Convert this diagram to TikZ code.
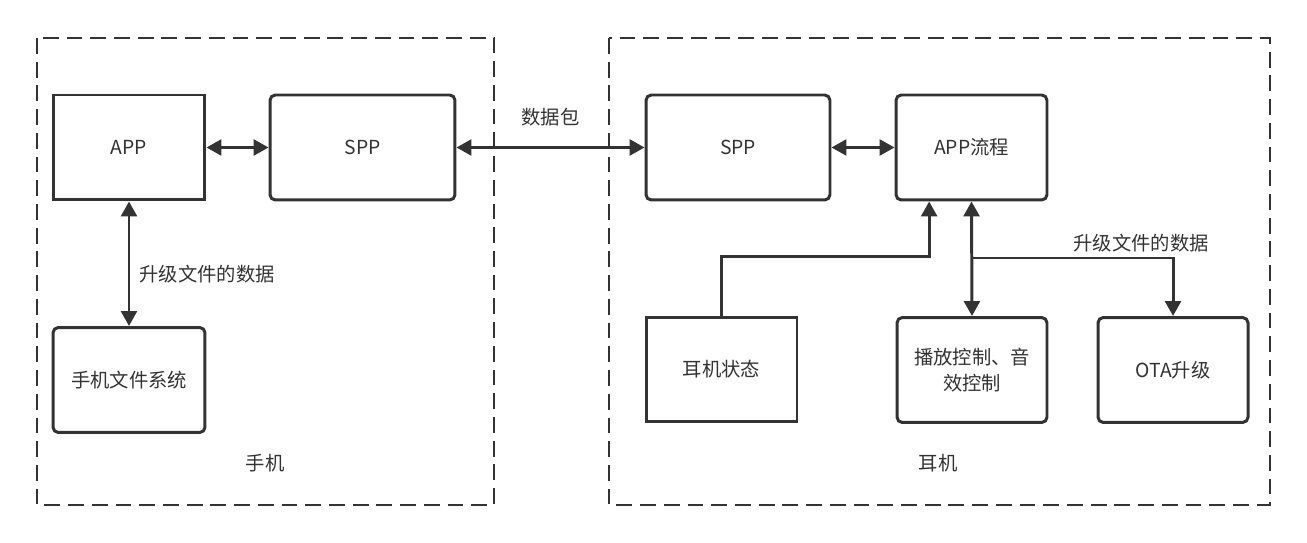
\documentclass[tikz,border=0pt]{standalone}
\usepackage{fontspec}
\setmainfont{Noto Sans CJK SC}
\usetikzlibrary{arrows.meta,calc}
\definecolor{ink}{HTML}{333333}
\tikzset{
    box/.style={draw=ink,line width=1.7pt,minimum height=2.1cm,inner sep=0pt,text=ink,font=\fontsize{11}{14.5}\selectfont,align=center},
    rbox/.style={box,rounded corners=3pt},
    area/.style={draw=ink,line width=1.5pt,dash pattern=on 9pt off 4.5pt},
    lbl/.style={text=ink,font=\fontsize{11}{14.5}\selectfont,inner sep=0pt},
    link/.style={draw=ink,line width=1.7pt,-{Triangle[length=8.5pt,width=9pt]}},
    dlink/.style={link,{Triangle[length=8.5pt,width=9pt]}-{Triangle[length=8.5pt,width=9pt]}},
  }
\begin{document}
\begin{tikzpicture}[x=0.02cm,y=-0.02cm]
      \useasboundingbox[fill=white] (0,0) rectangle (1307,543);
      %zones
      \draw[area] (37,38) rectangle (494,505);
      \draw[area] (609,38) rectangle (1270,505);
      \node[lbl] (phone) at (265,463) {手机};
      \node[lbl] (ear) at (938,463) {耳机};

      %PHONE
      \node[box,minimum width=3.04cm] (app) at (129,147.5) {APP};
      \node[rbox,minimum width=3.7cm] (spp) at (362.5,147.5) {SPP};
      \node[rbox,minimum width=3.04cm] (fs) at (129,380) {手机文件系统};
      \draw[dlink] (app) -- (spp);
      \draw[dlink] (app) -- (fs) node[lbl,right,pos=0.58,xshift=0.18cm] (upd) {升级文件的数据};

      %EARPHONE
      \node[rbox,minimum width=3.68cm] (spp2) at (738,147.5) {SPP};
      \node[rbox,minimum width=3.02cm] (flow) at (971.5,147.5) {APP流程};
      \node[box,minimum width=3.02cm] (state) at (721.5,369.5) {耳机状态};
      \node[rbox,minimum width=3.0cm] (play) at (972,370) {播放控制、音\\效控制};
      \node[rbox,minimum width=3.0cm] (ota) at (1173,370) {OTA升级};
      \draw[dlink] (spp) -- (spp2) node[lbl,midway,above=0.4cm] (pkt) {数据包};
      \draw[dlink] (spp2) -- (flow);

      %state -> flow
      \coordinate (in1) at ($(flow.south west)!.225!(flow.south east)$);
      \draw[link] (state.north) -- ++(0,-59) -| (in1);
      %flow <-> play, branch -> ota
      \draw[dlink] (flow.south) -- (play.north);
      \coordinate (br) at (flow.south |- 0,258);
      \draw[link] (br) -| (ota.north);
      \node[lbl] (upd2) at (1141,243) {升级文件的数据};
\end{tikzpicture}
\end{document}
